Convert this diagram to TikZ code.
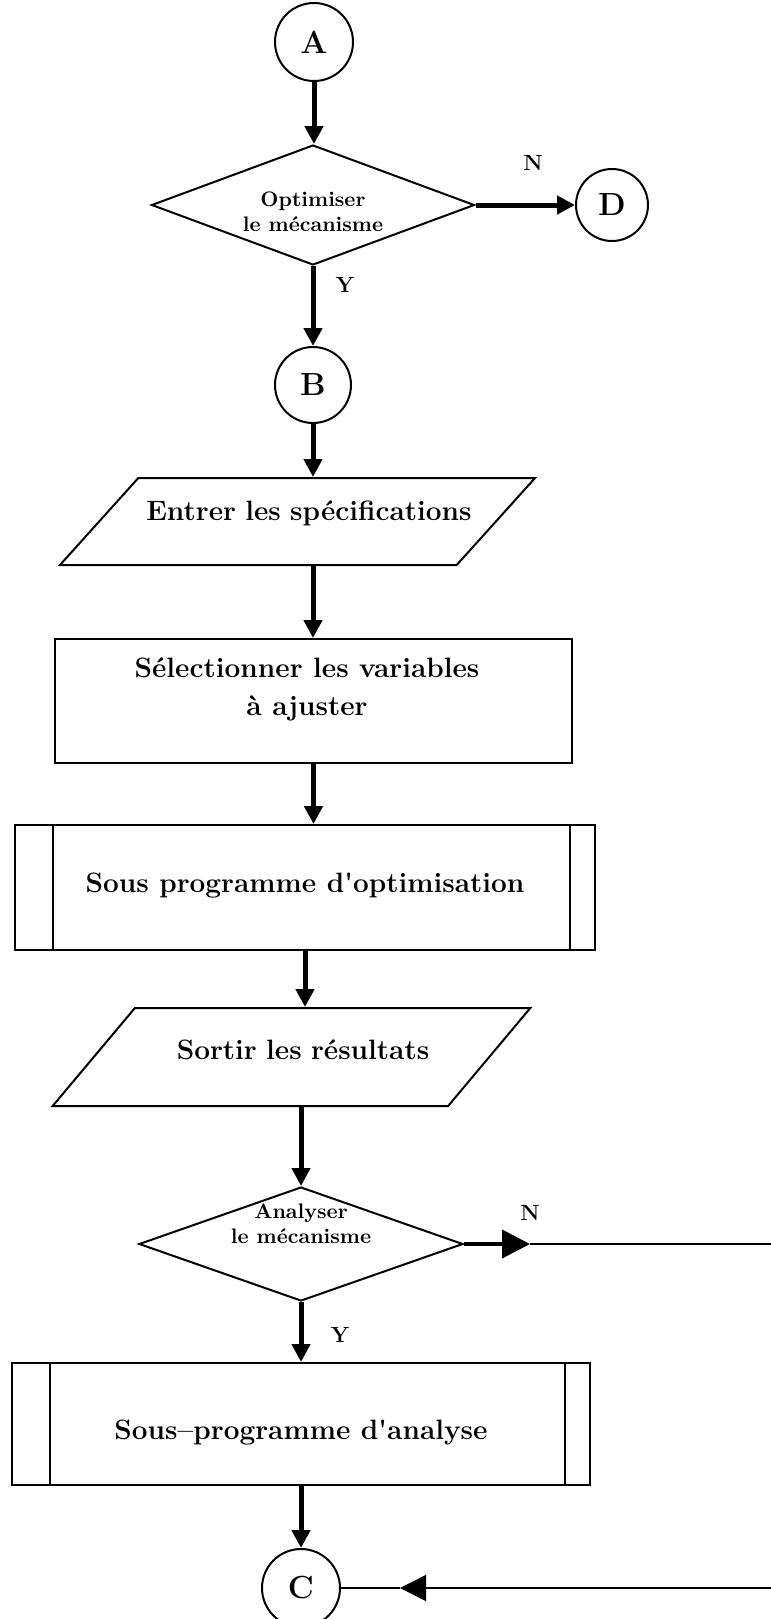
\documentclass[tikz,border=0pt]{standalone}
\usepackage{tikz}
\usetikzlibrary{shapes.geometric, arrows.meta}

% text set inside a shape: shift right, raise, lines
\newcommand{\shapetext}[3]{\makebox[0pt]{\hspace*{#1}\hspace*{#1}\raisebox{#2}[0pt][0pt]{\begin{tabular}{@{}c@{}}#3\end{tabular}}}}

\begin{document}
\begin{tikzpicture}[
        x=0.5pt, y=-0.5pt,
        outline/.style={draw, line width=1pt, inner sep=0pt},
        conn/.style={outline, circle, minimum size=#1,
                     font=\fontsize{16}{19}\selectfont\bfseries},
        decision/.style={outline, diamond,
                     font=\fontsize{10.5}{12.5}\selectfont\bfseries},
        process/.style={outline, rectangle,
                     font=\fontsize{14}{19}\selectfont\bfseries},
        io/.style 2 args={outline, trapezium, trapezium left angle=#1,
                   trapezium right angle=#2, align=center,
                   font=\fontsize{14}{19}\selectfont\bfseries},
        subproc/.style={process, path picture={
            \draw[line width=1pt] ([xshift=19pt]path picture bounding box.north west)
                -- ([xshift=19pt]path picture bounding box.south west);
            \draw[line width=1pt] ([xshift=-12.5pt]path picture bounding box.north east)
                -- ([xshift=-12.5pt]path picture bounding box.south east);}},
        yn/.style={font=\fontsize{11}{13}\selectfont\bfseries},
        flow/.style={line width=2.5pt, -{Triangle[length=9pt, width=9pt]}},
        wire/.style={line width=0.8pt}
    ]
    \useasboundingbox (0,0) rectangle (771,1619);

    % boxes of the flow chart
    \node[conn=39pt] (A) at (314,42) {A};
    \node[decision, minimum width=161.5pt, minimum height=60pt] (opt) at (313,205)
        {\shapetext{0pt}{-7pt}{Optimiser\\le mécanisme}};
    \node[conn=36pt] (D) at (612,205) {D};
    \node[conn=38pt] (B) at (313,385) {B};
    \node[io={48}{132}, text width=159.2pt, text height=21.75pt, text depth=21.75pt]
        (spec) at (297.5,521.5)
        {\shapetext{5.75pt}{0.6pt}{Entrer les spécifications}};
    \node[process, minimum width=258.5pt, minimum height=62pt] (sel) at (313.5,701)
        {\shapetext{-3.25pt}{2.4pt}{Sélectionner les variables\\à ajuster}};
    \node[subproc, minimum width=290pt, minimum height=62.5pt] (optsub) at (305,887.5)
        {\shapetext{0pt}{-2.4pt}{Sous programme d\textquotesingle optimisation}};
    \node[io={50}{130}, text width=156.6pt, text height=24.5pt, text depth=24.5pt]
        (out) at (291.5,1057)
        {\shapetext{5.75pt}{-1.1pt}{Sortir les résultats}};
    \node[decision, minimum width=162pt, minimum height=57pt] (ana) at (301,1244)
        {\shapetext{0pt}{6.2pt}{Analyser\\le mécanisme}};
    \node[subproc, minimum width=289pt, minimum height=61pt] (anasub) at (301,1424)
        {\shapetext{0pt}{-7.6pt}{Sous--programme d\textquotesingle analyse}};
    \node[conn=39pt] (C) at (301,1588) {C};

    % branch labels
    \node[yn] (optno) at (533,163) {N};
    \node[yn] (optyes) at (345,285) {Y};
    \node[yn] (anano) at (530,1213) {N};
    \node[yn] (anayes) at (340,1335) {Y};

    % off-page ends
    \coordinate (anatip) at (530,1244);
    \coordinate (anaout) at (771,1244);
    \coordinate (ctip) at (400,1588);
    \coordinate (cin) at (771,1588);

    \draw[flow] (A) -- (A |- opt.north);
    \draw[flow] (opt) -- (D);
    \draw[flow] (opt.south) -- (opt.south |- B.north);
    \draw[flow] (B) -- (B |- spec.north);
    \draw[flow] (B |- spec.south) -- (B |- sel.north);
    \draw[flow] (sel.south) -- (sel.south |- optsub.north);
    \draw[flow] (optsub.south) -- (optsub.south |- out.north);
    \draw[flow] (ana.north |- out.south) -- (ana.north);
    \draw[flow] (ana.south) -- (ana.south |- anasub.north);
    \draw[flow] (anasub.south) -- (C);

    \draw[line width=2pt, -{Triangle[length=14pt, width=14pt]}] (ana) -- (anatip);
    \draw[wire] (anatip) -- (anaout);
    \draw[wire, -{Triangle[length=13pt, width=13pt]}] (cin) -- (ctip);
    \draw[wire] (ctip) -- (C);
\end{tikzpicture}
\end{document}
